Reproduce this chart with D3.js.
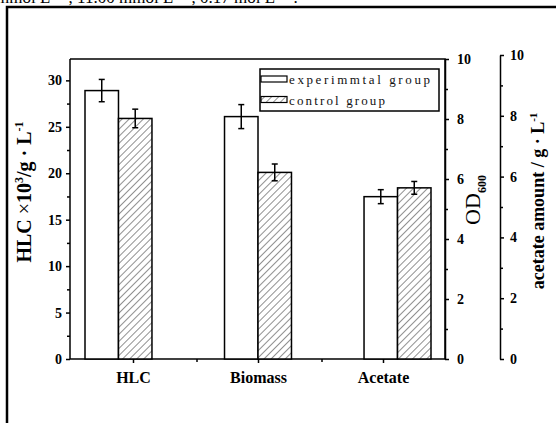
<html>
<head>
  <meta charset="utf-8">
  <title>HLC / Biomass / Acetate</title>
  <script src="https://cdn.jsdelivr.net/npm/d3@7"></script>
  <style>
    body { margin: 0; background: #fff; }
    text { font-family: "Liberation Serif", "DejaVu Serif", serif; }
  </style>
</head>
<body>
  <svg width="556" height="423"></svg>
  <script>
    // data
    const categories = ["HLC", "Biomass", "Acetate"];
    const axisOf = ["hlc", "od", "acetate"];            // which y axis each category uses
    const experimental = [28.9, 8.08, 5.34];
    const experimentalErr = [1.2, 0.4, 0.23];
    const control = [25.9, 6.22, 5.63];
    const controlErr = [1.0, 0.28, 0.21];
    const hlcTicks = [0, 5, 10, 15, 20, 25, 30];
    const odTicks = [0, 2, 4, 6, 8, 10];
    const seriesNames = ["experimmtal group", "control group"];

    const svg = d3.select("svg");
    const plotTop = 59, plotBottom = 359, plotLeft = 70, plotRight = 445;

    svg.append("rect").attr("width", 556).attr("height", 423).attr("fill", "#fff");

    // cut-off caption line at the very top
    svg.append("text")
      .attr("x", -4).attr("y", 3)
      .attr("font-size", 17)
      .text("mmol L\u207B\u00B9 , 11.00 mmol L\u207B\u00B9 , 0.17 mol L\u207B\u00B9 .");

    // outer frame
    svg.append("path")
      .attr("d", "M7,423V7H556")
      .attr("fill", "none").attr("stroke", "#000").attr("stroke-width", 2.5);

    const defs = svg.append("defs");
    const pat = defs.append("pattern")
      .attr("id", "hatch").attr("patternUnits", "userSpaceOnUse")
      .attr("width", 5).attr("height", 5)
      .attr("patternTransform", "rotate(45)");
    pat.append("rect").attr("width", 5).attr("height", 5).attr("fill", "#fff");
    pat.append("line").attr("x1", 0).attr("y1", 0).attr("x2", 0).attr("y2", 5)
      .attr("stroke", "#222").attr("stroke-width", 1);

    const yScales = {
      hlc: d3.scaleLinear().domain([0, 32.3]).range([plotBottom, plotTop]),
      od: d3.scaleLinear().domain([0, 10]).range([plotBottom, plotTop]),
      acetate: d3.scaleLinear().domain([0, 10]).range([plotBottom, 55])
    };

    // tick positions and bar positions follow different spacing in the original
    const xTick = d3.scaleBand().domain(categories).range([plotLeft + 1, plotRight + 1]);
    const xGroup = d3.scaleBand().domain(categories).range([85, 431])
      .paddingInner(0.52).paddingOuter(0);
    const xSub = d3.scaleBand().domain([0, 1]).range([0, xGroup.bandwidth()]);

    // plot frame top & right
    svg.append("path")
      .attr("d", `M${plotLeft},${plotTop}H${plotRight}V${plotBottom}`)
      .attr("fill", "none").attr("stroke", "#000").attr("stroke-width", 1.5);

    const fontTick = 14;

    function styleAxis(g) {
      g.selectAll("path, line").attr("stroke", "#000").attr("stroke-width", 1.5);
      g.selectAll("text").attr("font-size", fontTick).attr("font-weight", "bold")
        .attr("fill", "#000").attr("font-family", "Liberation Serif, serif");
    }

    // left axis
    const gl = svg.append("g").attr("transform", `translate(${plotLeft},0)`);
    gl.call(d3.axisLeft(yScales.hlc).tickValues(hlcTicks).tickSize(4).tickSizeOuter(0).tickPadding(4))
      .call(styleAxis);
    gl.select(".domain").attr("d", `M0,${plotBottom}V${plotTop}`);
    gl.append("g").call(d3.axisLeft(yScales.hlc).tickValues(d3.range(2.5, 32, 5)).tickSize(3).tickFormat(""))
      .call(styleAxis).select(".domain").remove();

    // right OD axis
    const gr = svg.append("g").attr("transform", `translate(${plotRight},0)`);
    gr.call(d3.axisRight(yScales.od).tickValues(odTicks).tickSize(4).tickSizeOuter(0).tickPadding(8))
      .call(styleAxis);
    gr.append("g").call(d3.axisRight(yScales.od).tickValues(d3.range(1, 10, 2)).tickSize(3).tickFormat(""))
      .call(styleAxis).select(".domain").remove();

    // acetate axis
    const ga = svg.append("g").attr("transform", "translate(500,0)");
    ga.call(d3.axisRight(yScales.acetate).tickValues(odTicks).tickSize(4).tickSizeOuter(0).tickPadding(6))
      .call(styleAxis);
    ga.append("g").call(d3.axisRight(yScales.acetate).tickValues(d3.range(1, 10, 2)).tickSize(3).tickFormat(""))
      .call(styleAxis).select(".domain").remove();

    // bottom axis
    const gb = svg.append("g").attr("transform", `translate(0,${plotBottom})`);
    gb.call(d3.axisBottom(xTick).tickSize(4).tickSizeOuter(0).tickPadding(9))
      .call(styleAxis);
    gb.select(".domain").attr("d", `M${plotLeft},0H${plotRight}`);
    gb.selectAll(".tick text").attr("font-size", 16);
    gb.selectAll(".minor").data(categories.slice(1)).enter().append("line")
      .attr("x1", d => xTick(d) + 1).attr("x2", d => xTick(d) + 1)
      .attr("y1", 0).attr("y2", 3).attr("stroke", "#000").attr("stroke-width", 1.5);

    // bars
    const bars = [];
    categories.forEach((c, i) => {
      const y = yScales[axisOf[i]];
      bars.push({ c, s: 0, v: experimental[i], e: experimentalErr[i], y });
      bars.push({ c, s: 1, v: control[i], e: controlErr[i], y });
    });

    svg.append("g").selectAll("rect").data(bars).enter().append("rect")
      .attr("x", d => xGroup(d.c) + xSub(d.s))
      .attr("width", xSub.bandwidth())
      .attr("y", d => d.y(d.v))
      .attr("height", d => d.y(0) - d.y(d.v))
      .attr("fill", d => d.s ? "url(#hatch)" : "#fff")
      .attr("stroke", "#000").attr("stroke-width", 1.5);

    const eb = svg.append("g").selectAll("g").data(bars).enter().append("g")
      .attr("transform", d => `translate(${xGroup(d.c) + xSub(d.s) + xSub.bandwidth() / 2},0)`);
    eb.append("line").attr("y1", d => d.y(d.v + d.e)).attr("y2", d => d.y(d.v - d.e));
    eb.append("line").attr("x1", -3).attr("x2", 3).attr("y1", d => d.y(d.v + d.e)).attr("y2", d => d.y(d.v + d.e));
    eb.append("line").attr("x1", -3).attr("x2", 3).attr("y1", d => d.y(d.v - d.e)).attr("y2", d => d.y(d.v - d.e));
    eb.selectAll("line").attr("stroke", "#000").attr("stroke-width", 1.5);

    // legend
    const lg = svg.append("g");
    lg.append("rect").attr("x", 260).attr("y", 69).attr("width", 179).attr("height", 42)
      .attr("fill", "#fff").attr("stroke", "#000").attr("stroke-width", 1.5);
    seriesNames.forEach((name, i) => {
      const yy = 76 + i * 20.5;
      lg.append("rect").attr("x", 261).attr("y", yy).attr("width", 26).attr("height", 6)
        .attr("fill", i ? "url(#hatch)" : "#fff").attr("stroke", "#000").attr("stroke-width", 1.2);
      lg.append("text").attr("x", 289).attr("y", yy + 8)
        .attr("font-size", 13).attr("fill", "#111")
        .attr("textLength", i ? 96 : 141).attr("lengthAdjust", "spacing")
        .text(name);
    });

    // axis titles
    const t1 = svg.append("text").attr("transform", "translate(31,192) rotate(-90)")
      .attr("text-anchor", "middle").attr("font-size", 20).attr("font-weight", "bold");
    t1.append("tspan").text("HLC ");
    t1.append("tspan").attr("font-weight", "normal").text("\u00D7");
    t1.append("tspan").text("10");
    t1.append("tspan").attr("font-size", 12).attr("dy", -8).text("3");
    t1.append("tspan").attr("dy", 8).text("/g \u00B7 L");
    t1.append("tspan").attr("font-size", 12).attr("dy", -8).text("-1");

    const t2 = svg.append("text").attr("transform", "translate(480,200) rotate(-90)")
      .attr("text-anchor", "middle").attr("font-size", 22);
    t2.append("tspan").text("OD");
    t2.append("tspan").attr("font-size", 12).attr("dy", 6).attr("font-weight", "bold").text("600");

    const t3 = svg.append("text").attr("transform", "translate(544,201) rotate(-90)")
      .attr("text-anchor", "middle").attr("font-size", 18).attr("font-weight", "bold");
    t3.append("tspan").text("acetate amount / g \u00B7 L");
    t3.append("tspan").attr("font-size", 11).attr("dy", -7).text("-1");
  </script>
</body>
</html>
